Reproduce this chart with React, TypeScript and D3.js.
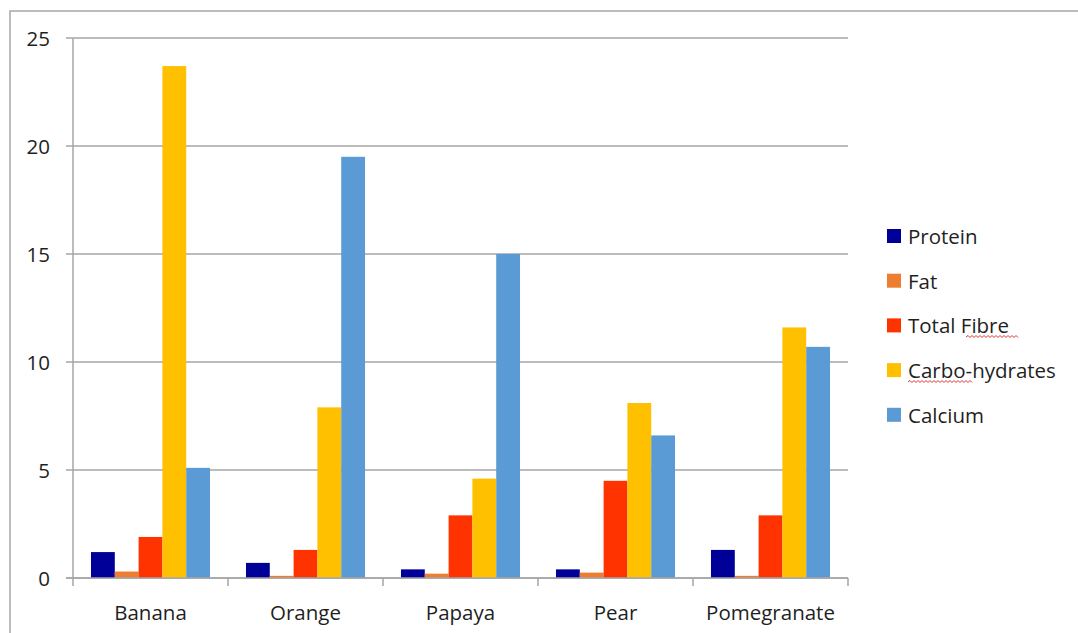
import React from "react";
import * as d3 from "d3";

const categories = ["Banana", "Orange", "Papaya", "Pear", "Pomegranate"];
const seriesNames = ["Protein", "Fat", "Total Fibre", "Carbo-hydrates", "Calcium"];
const protein = [1.2, 0.7, 0.4, 0.4, 1.3];
const fat = [0.3, 0.1, 0.2, 0.25, 0.1];
const fibre = [1.9, 1.3, 2.9, 4.5, 2.9];
const carbs = [23.7, 7.9, 4.6, 8.1, 11.6];
const calcium = [5.1, 19.5, 15.0, 6.6, 10.7];
const yTicks = [0, 5, 10, 15, 20, 25];
const colors = ["#000099", "#ED7D31", "#FF3300", "#FFC000", "#5B9BD5"];

const seriesValues = [protein, fat, fibre, carbs, calcium];

const W = 1078;
const H = 633;
const left = 73;
const right = 848;
const top = 38;
const bottom = 578;
const font = "'Open Sans', 'Noto Sans', sans-serif";
const textColor = "#1f1f1f";
const gridColor = "#A6A6A6";
const fs = 20.5;

function squiggle(x0: number, x1: number, y: number): string {
  let d = `M${x0},${y}`;
  let up = true;
  for (let x = x0 + 2; x <= x1; x += 2) {
    d += ` L${x},${up ? y - 1.5 : y + 0.5}`;
    up = !up;
  }
  return d;
}

export default function App() {
  const x0 = d3.scaleBand<string>().domain(categories).range([left, right]).paddingInner(0).paddingOuter(0);
  const groupPad = x0.bandwidth() * 0.116;
  const x1 = d3
    .scaleBand<number>()
    .domain(d3.range(seriesNames.length))
    .range([groupPad, x0.bandwidth() - groupPad]);
  const y = d3.scaleLinear().domain([0, 25]).range([bottom, top]);

  const legendX = 887;
  const legendY0 = 236;
  const legendStep = 44.7;

  return (
    <svg
      width={W}
      height={H}
      style={{ position: "fixed", left: 0, top: 0, background: "#fff" }}
      fontFamily={font}
    >
      <rect x={0} y={0} width={W} height={H} fill="#fff" />
      {/* outer frame */}
      <path d={`M10,${H} L10,11 L${W},11`} fill="none" stroke={gridColor} strokeWidth={1.5} />

      {/* gridlines */}
      {yTicks.map((t) => (
        <g key={t}>
          <line x1={left - 7} x2={right} y1={y(t)} y2={y(t)} stroke={gridColor} strokeWidth={1.5} />
          <text
            x={50}
            y={y(t)}
            textAnchor="end"
            dominantBaseline="central"
            fontSize={fs}
            fill={textColor}
          >
            {t}
          </text>
        </g>
      ))}
      {/* y axis line */}
      <line x1={left} x2={left} y1={top} y2={bottom + 8} stroke={gridColor} strokeWidth={1.5} />

      {/* category ticks */}
      {categories.map((c) => (
        <line
          key={c}
          x1={(x0(c) as number) + x0.bandwidth()}
          x2={(x0(c) as number) + x0.bandwidth()}
          y1={bottom}
          y2={bottom + 8}
          stroke={gridColor}
          strokeWidth={1.5}
        />
      ))}

      {/* bars */}
      {seriesValues.map((vals, si) =>
        vals.map((v, ci) => {
          const bx = (x0(categories[ci]) as number) + (x1(si) as number);
          return (
            <rect
              key={`${si}-${ci}`}
              x={bx}
              y={y(v)}
              width={x1.bandwidth()}
              height={bottom - y(v)}
              fill={colors[si]}
            />
          );
        })
      )}

      {/* baseline on top */}
      <line x1={left - 7} x2={right} y1={bottom} y2={bottom} stroke={gridColor} strokeWidth={1.5} />

      {/* category labels */}
      {categories.map((c) => (
        <text
          key={c}
          x={(x0(c) as number) + x0.bandwidth() / 2}
          y={612}
          textAnchor="middle"
          dominantBaseline="central"
          fontSize={fs}
          fill={textColor}
        >
          {c}
        </text>
      ))}

      {/* legend */}
      {seriesNames.map((s, i) => {
        const cy = legendY0 + i * legendStep;
        return (
          <g key={s}>
            <rect x={legendX} y={cy - 7} width={14} height={14} fill={colors[i]} />
            <text x={908} y={cy} dominantBaseline="central" fontSize={fs} fill={textColor}>
              {s}
            </text>
          </g>
        );
      })}
      {/* spell-check squiggles */}
      <path d={squiggle(966, 1018, 337)} fill="none" stroke="#e03030" strokeWidth={1} />
      <path d={squiggle(908, 972, 382)} fill="none" stroke="#e03030" strokeWidth={1} />
    </svg>
  );
}
